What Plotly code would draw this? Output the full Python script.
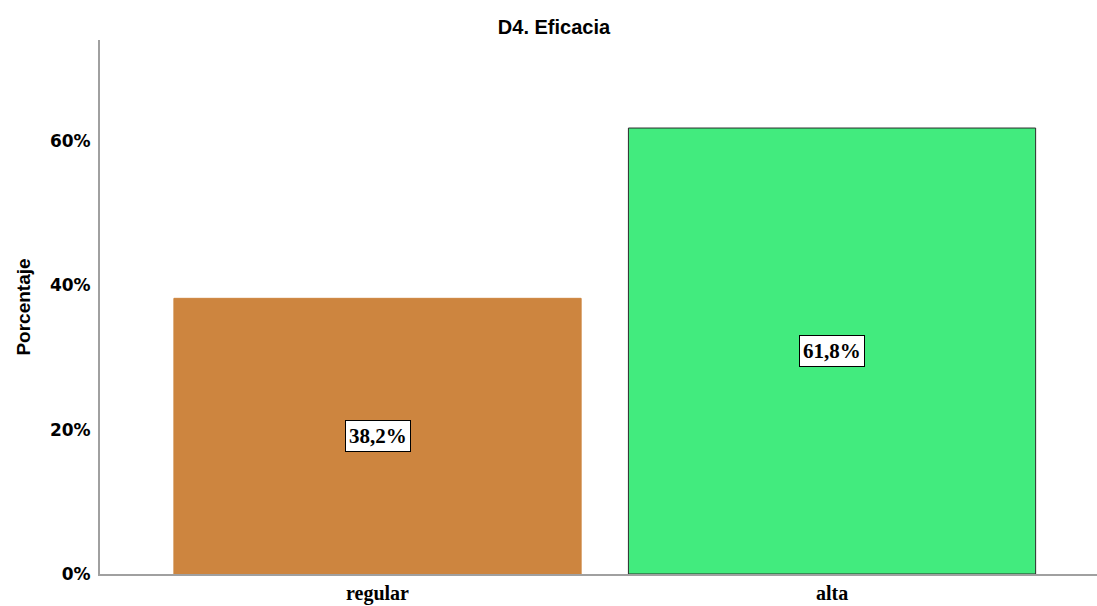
import plotly.graph_objects as go

# Category percentages
categories = ["regular", "alta"]
percentages = [38.2, 61.8]
bar_colors = ["#CD853F", "#42EB7E"]
border_colors = ["#CD853F", "#2b2b2b"]
y_ticks = [0, 20, 40, 60]
y_tick_labels = ["0%", "20%", "40%", "60%"]

fig = go.Figure()
fig.add_trace(go.Bar(
    x=categories,
    y=percentages,
    width=0.896,
    marker=dict(color=bar_colors, line=dict(color=border_colors, width=1)),
    hoverinfo="skip",
))

# Value labels centred in each bar
for cat, val in zip(categories, percentages):
    fig.add_annotation(
        x=cat, y=val / 2, text=f"{val:.1f}%".replace(".", ","),
        showarrow=False,
        font=dict(family="Liberation Serif", size=21, color="black", weight="bold"),
        bgcolor="white", bordercolor="black", borderwidth=1, borderpad=3,
    )

fig.update_layout(
    width=1097, height=606,
    margin=dict(l=100, r=0, t=40, b=32),
    paper_bgcolor="white", plot_bgcolor="white",
    showlegend=False,
    title=dict(text="<b>D4. Eficacia</b>", x=0.505, xanchor="center", y=0.955, yanchor="middle",
               font=dict(family="Liberation Sans", size=20, color="black")),
    xaxis=dict(
        range=[-0.6106, 1.583],
        showline=True, linecolor="#a0a0a0", linewidth=2,
        ticks="", showgrid=False,
        tickfont=dict(family="Liberation Serif", size=20, color="black", weight="bold"),
    ),
    yaxis=dict(
        range=[0, 74.0],
        tickvals=y_ticks, ticktext=y_tick_labels,
        showline=True, linecolor="#a0a0a0", linewidth=2,
        ticks="", showgrid=False, zeroline=False,
        ticklabelstandoff=4,
        tickfont=dict(family="DejaVu Sans", size=17, color="black", weight="bold"),
        title=dict(text="<b>Porcentaje</b>", font=dict(family="Liberation Sans", size=19, color="black"), standoff=14),
    ),
)

fig.write_html("out.html")
